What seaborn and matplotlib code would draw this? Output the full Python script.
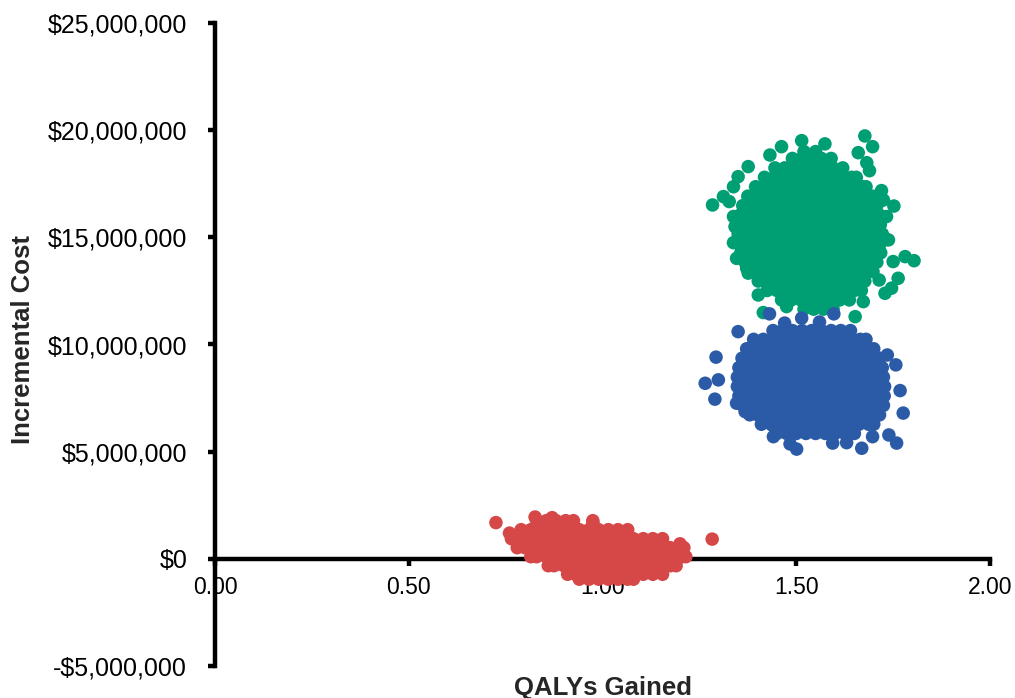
import matplotlib
matplotlib.use("Agg")
import matplotlib.pyplot as plt
import seaborn as sns
import pandas as pd
from matplotlib.ticker import FuncFormatter

# ---------------- data (cost in $ millions) ----------------
strategies = ["Strategy C", "Strategy B", "Strategy A"]   # green, blue, red
colors = ["#009E73", "#2B5BA7", "#D64848"]

green_rows = [
    (11.65, [1.52, 1.545, 1.57, 1.595]),
    (12.08, [1.462, 1.487, 1.512, 1.537, 1.562, 1.587, 1.612, 1.637]),
    (12.52, [1.425, 1.45, 1.475, 1.50, 1.525, 1.55, 1.575, 1.60, 1.625, 1.65, 1.668]),
    (12.96, [1.402, 1.427, 1.452, 1.477, 1.502, 1.527, 1.552, 1.577, 1.602, 1.627, 1.652, 1.677]),
    (13.40, [1.38, 1.405, 1.43, 1.455, 1.48, 1.505, 1.53, 1.555, 1.58, 1.605, 1.63, 1.655, 1.68, 1.698]),
    (13.84, [1.368, 1.392, 1.417, 1.442, 1.467, 1.492, 1.517, 1.542, 1.567, 1.592, 1.617, 1.642, 1.667, 1.692, 1.708]),
    (14.28, [1.357, 1.38, 1.405, 1.43, 1.455, 1.48, 1.505, 1.53, 1.555, 1.58, 1.605, 1.63, 1.655, 1.68, 1.705, 1.718]),
    (14.72, [1.352, 1.368, 1.392, 1.417, 1.442, 1.467, 1.492, 1.517, 1.542, 1.567, 1.592, 1.617, 1.642, 1.667, 1.692, 1.717]),
    (15.16, [1.35, 1.375, 1.40, 1.425, 1.45, 1.475, 1.50, 1.525, 1.55, 1.575, 1.60, 1.625, 1.65, 1.675, 1.70, 1.722]),
    (15.60, [1.352, 1.368, 1.392, 1.417, 1.442, 1.467, 1.492, 1.517, 1.542, 1.567, 1.592, 1.617, 1.642, 1.667, 1.692, 1.717]),
    (16.04, [1.355, 1.38, 1.405, 1.43, 1.455, 1.48, 1.505, 1.53, 1.555, 1.58, 1.605, 1.63, 1.655, 1.68, 1.705, 1.715]),
    (16.48, [1.362, 1.387, 1.412, 1.437, 1.462, 1.487, 1.512, 1.537, 1.562, 1.587, 1.612, 1.637, 1.662, 1.687, 1.708]),
    (16.92, [1.375, 1.40, 1.425, 1.45, 1.475, 1.50, 1.525, 1.55, 1.575, 1.60, 1.625, 1.65, 1.675, 1.697]),
    (17.36, [1.395, 1.42, 1.445, 1.47, 1.495, 1.52, 1.545, 1.57, 1.595, 1.62, 1.645, 1.67, 1.68]),
    (17.80, [1.418, 1.443, 1.468, 1.493, 1.518, 1.543, 1.568, 1.593, 1.618, 1.643, 1.655]),
    (18.24, [1.445, 1.47, 1.495, 1.52, 1.545, 1.57, 1.595, 1.62]),
    (18.68, [1.49, 1.515, 1.54, 1.565, 1.59]),
    (19.00, [1.52, 1.55]),
]
green_out_qaly = [1.514, 1.677, 1.697, 1.660, 1.682, 1.689, 1.462, 1.432, 1.574, 1.376,
                  1.350, 1.338, 1.284, 1.312, 1.327, 1.752, 1.720, 1.725, 1.733, 1.338,
                  1.342, 1.338, 1.346, 1.372, 1.376, 1.738, 1.750, 1.781, 1.804, 1.763,
                  1.746, 1.729, 1.714, 1.402, 1.415, 1.475, 1.652, 1.673]
green_out_cost = [19.51, 19.73, 19.23, 18.95, 18.48, 18.11, 19.23, 18.84, 19.36, 18.30,
                  17.83, 17.36, 16.51, 16.90, 16.67, 16.46, 17.18, 16.74, 15.97, 15.97,
                  15.50, 14.75, 14.02, 13.56, 13.33, 14.88, 13.87, 14.10, 13.91, 13.09,
                  12.63, 12.39, 13.01, 12.31, 11.49, 11.77, 11.30, 12.00]

blue_rows = [
    (5.85, [1.45, 1.475, 1.50, 1.525, 1.55, 1.575, 1.60, 1.625, 1.65]),
    (6.28, [1.41, 1.437, 1.462, 1.487, 1.512, 1.537, 1.562, 1.587, 1.612, 1.637, 1.662, 1.687, 1.70]),
    (6.72, [1.38, 1.40, 1.425, 1.45, 1.475, 1.50, 1.525, 1.55, 1.575, 1.60, 1.625, 1.65, 1.675, 1.70, 1.715]),
    (7.16, [1.362, 1.387, 1.412, 1.437, 1.462, 1.487, 1.512, 1.537, 1.562, 1.587, 1.612, 1.637, 1.662, 1.687, 1.712, 1.725]),
    (7.60, [1.352, 1.375, 1.40, 1.425, 1.45, 1.475, 1.50, 1.525, 1.55, 1.575, 1.60, 1.625, 1.65, 1.675, 1.70, 1.727]),
    (8.04, [1.348, 1.362, 1.387, 1.412, 1.437, 1.462, 1.487, 1.512, 1.537, 1.562, 1.587, 1.612, 1.637, 1.662, 1.687, 1.712, 1.728]),
    (8.48, [1.348, 1.375, 1.40, 1.425, 1.45, 1.475, 1.50, 1.525, 1.55, 1.575, 1.60, 1.625, 1.65, 1.675, 1.70, 1.725]),
    (8.92, [1.352, 1.362, 1.387, 1.412, 1.437, 1.462, 1.487, 1.512, 1.537, 1.562, 1.587, 1.612, 1.637, 1.662, 1.687, 1.712, 1.722]),
    (9.36, [1.36, 1.375, 1.40, 1.425, 1.45, 1.475, 1.50, 1.525, 1.55, 1.575, 1.60, 1.625, 1.65, 1.675, 1.70, 1.715]),
    (9.80, [1.372, 1.387, 1.412, 1.437, 1.462, 1.487, 1.512, 1.537, 1.562, 1.587, 1.612, 1.637, 1.662, 1.687, 1.70]),
    (10.24, [1.39, 1.415, 1.44, 1.465, 1.49, 1.515, 1.54, 1.565, 1.59, 1.615, 1.64, 1.665, 1.68]),
    (10.65, [1.44, 1.465, 1.49, 1.515, 1.54, 1.565, 1.59, 1.615, 1.64]),
]
blue_out_qaly = [1.265, 1.293, 1.299, 1.290, 1.431, 1.514, 1.597, 1.350, 1.735, 1.757,
                 1.768, 1.776, 1.759, 1.739, 1.669, 1.630, 1.594, 1.501, 1.484, 1.441,
                 1.437, 1.368, 1.346, 1.697, 1.470, 1.560]
blue_out_cost = [8.19, 9.41, 8.35, 7.45, 11.43, 11.23, 11.43, 10.60, 9.51, 9.05,
                 7.85, 6.80, 5.40, 5.78, 5.16, 5.42, 5.40, 5.12, 5.36, 5.70,
                 6.25, 6.87, 7.26, 5.70, 11.00, 11.05]

red_rows = [
    (1.78, [0.83, 0.855, 0.88, 0.905, 0.925, 0.975]),
    (1.36, [0.79, 0.815, 0.84, 0.865, 0.89, 0.915, 0.94, 0.965, 0.99, 1.015, 1.04, 1.065]),
    (0.94, [0.765, 0.78, 0.805, 0.83, 0.855, 0.88, 0.905, 0.93, 0.955, 0.98, 1.005, 1.03,
            1.055, 1.08, 1.105, 1.13, 1.155]),
    (0.52, [0.78, 0.80, 0.825, 0.85, 0.875, 0.90, 0.925, 0.95, 0.975, 1.00, 1.025, 1.05,
            1.075, 1.10, 1.125, 1.15, 1.175, 1.20, 1.21]),
    (0.10, [0.815, 0.83, 0.855, 0.88, 0.905, 0.93, 0.955, 0.98, 1.005, 1.03, 1.055, 1.08,
            1.105, 1.13, 1.155, 1.18, 1.205, 1.215]),
    (-0.32, [0.86, 0.875, 0.90, 0.925, 0.95, 0.975, 1.00, 1.025, 1.05, 1.075, 1.10, 1.125,
             1.15, 1.175, 1.19]),
    (-0.72, [0.91, 0.93, 0.955, 0.98, 1.005, 1.03, 1.055, 1.08, 1.105, 1.13, 1.155]),
    (-0.95, [0.94, 0.965, 0.99, 1.015, 1.04, 1.065, 1.08]),
]
red_out_qaly = [0.725, 1.283, 0.826, 0.870, 0.975, 0.760, 1.200]
red_out_cost = [1.69, 0.92, 1.95, 1.92, 1.70, 1.20, 0.70]

x_ticks = [0.0, 0.5, 1.0, 1.5, 2.0]
y_ticks = [-5e6, 0, 5e6, 10e6, 15e6, 20e6, 25e6]

# ---------------- assemble ----------------
records = []
for name, rows, oq, oc in [
    (strategies[0], green_rows, green_out_qaly, green_out_cost),
    (strategies[1], blue_rows, blue_out_qaly, blue_out_cost),
    (strategies[2], red_rows, red_out_qaly, red_out_cost),
]:
    for cost, qs in rows:
        for q in qs:
            records.append((q, cost * 1e6, name))
    for q, c in zip(oq, oc):
        records.append((q, c * 1e6, name))
df = pd.DataFrame(records, columns=["QALYs", "Cost", "Strategy"])

# ---------------- plot ----------------
sns.set_theme(style="white")
plt.rcParams["font.family"] = ["Liberation Sans", "DejaVu Sans"]

W, H = 1015, 698
fig = plt.figure(figsize=(W / 100, H / 100), dpi=100)
ax = fig.add_axes([215 / W, 1 - 666 / H, (990 - 215) / W, (666 - 23) / H])

sns.scatterplot(data=df, x="QALYs", y="Cost", hue="Strategy", hue_order=strategies,
                palette=colors, s=95, linewidth=0, edgecolor="none", legend=False,
                ax=ax, zorder=3)

ax.set_xlim(0, 2)
ax.set_ylim(-5e6, 25e6)
ax.set_xticks(x_ticks)
ax.set_yticks(y_ticks)
ax.xaxis.set_major_formatter(FuncFormatter(lambda v, p: f"{v:.2f}"))
ax.yaxis.set_major_formatter(FuncFormatter(
    lambda v, p: f"-${abs(v):,.0f}" if v < 0 else f"${v:,.0f}"))

for s in ["top", "right"]:
    ax.spines[s].set_visible(False)
ax.spines["bottom"].set_position(("data", 0))
for s in ["left", "bottom"]:
    ax.spines[s].set_linewidth(3.2)
    ax.spines[s].set_color("black")

ax.tick_params(axis="x", direction="out", length=5, width=3.2, pad=7,
               labelsize=16.5, colors="black", bottom=True)
ax.tick_params(axis="y", direction="out", length=5, width=3.2, pad=15,
               labelsize=18, colors="black", left=True)
ax.set_xlabel("")
ax.set_ylabel("")
ax.grid(False)

fig.text(602.5 / W, 1 - 695 / H, "QALYs Gained", ha="center", va="baseline",
         fontsize=18.5, fontweight="bold")
fig.text(23 / W, 1 - 340 / H, "Incremental Cost", ha="center", va="center",
         rotation=90, fontsize=18.5, fontweight="bold")

fig.savefig("out.png", dpi=100)
